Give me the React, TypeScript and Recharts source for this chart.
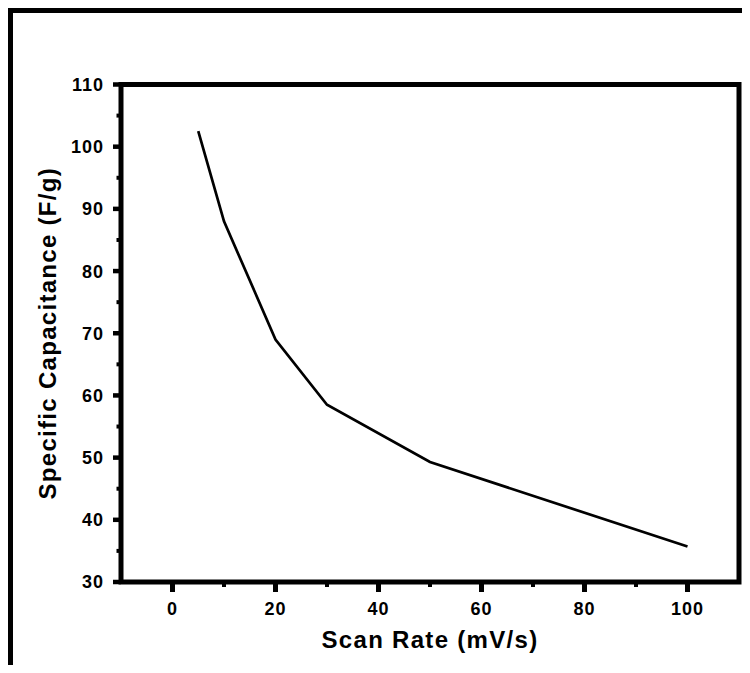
import { LineChart, Line, XAxis, YAxis, ReferenceArea } from "recharts";

// scan rate (mV/s) vs specific capacitance (F/g)
const scanRates = [5, 10, 20, 30, 50, 100];
const capacitance = [102.5, 88, 69, 58.5, 49.3, 35.7];

const xTicks = [0, 10, 20, 30, 40, 50, 60, 70, 80, 90, 100];
const yTicks = [30, 35, 40, 45, 50, 55, 60, 65, 70, 75, 80, 85, 90, 95, 100, 105, 110];

const data = scanRates.map((rate, i) => ({ rate, cap: capacitance[i] }));

const TS = 8;
const TM = 6;
const font = "'Liberation Sans', Arial, Helvetica, sans-serif";

function XTick({ x, y, payload }: any) {
  const axisY = y - (TS + TM);
  const major = payload.value % 20 === 0;
  return (
    <g>
      <line x1={x} x2={x} y1={axisY} y2={axisY + (major ? 10 : 5)} stroke="#000" strokeWidth={major ? 5 : 4} />
      {major && (
        <text x={x} y={axisY + 33} textAnchor="middle" fontFamily={font} fontWeight="bold" fontSize={18} letterSpacing={1} fill="#000">
          {payload.value}
        </text>
      )}
    </g>
  );
}

function YTick({ x, y, payload }: any) {
  const axisX = x + TS + TM;
  const major = payload.value % 10 === 0;
  return (
    <g>
      <line x1={axisX} x2={axisX - (major ? 8 : 4.5)} y1={y} y2={y} stroke="#000" strokeWidth={major ? 4.5 : 4} />
      {major && (
        <text x={axisX - 17} y={y} dy="0.36em" textAnchor="end" fontFamily={font} fontWeight="bold" fontSize={18} letterSpacing={1} fill="#000">
          {payload.value}
        </text>
      )}
    </g>
  );
}

const titleStyle = { textAnchor: "middle" as const, fontFamily: font, fontWeight: "bold", fontSize: 24, letterSpacing: 1.3, fill: "#000" };

export default function App() {
  return (
    <div style={{ position: "relative", width: 734, height: 657, background: "#fff" }}>
      <div
        style={{
          position: "absolute",
          left: 0,
          top: 0,
          width: 742,
          height: 665,
          boxSizing: "border-box",
          borderTop: "5px solid #000",
          borderLeft: "5px solid #000",
          pointerEvents: "none",
          clipPath: "inset(0 8px 8px 0)",
        }}
      />
      <LineChart width={734} height={657} data={data} margin={{ top: 76.5, right: 3, bottom: 2, left: 13 }}>
        <XAxis
          dataKey="rate"
          type="number"
          domain={[-10, 110]}
          ticks={xTicks}
          interval={0}
          axisLine={false}
          tickLine={false}
          tickSize={TS}
          tickMargin={TM}
          tick={<XTick />}
          height={81}
          label={{ value: "Scan Rate (mV/s)", position: "insideBottom", offset: 15, style: titleStyle }}
        />
        <YAxis
          type="number"
          domain={[30, 110]}
          ticks={yTicks}
          interval={0}
          axisLine={false}
          tickLine={false}
          tickSize={TS}
          tickMargin={TM}
          tick={<YTick />}
          width={100}
          label={{ value: "Specific Capacitance (F/g)", angle: -90, position: "insideLeft", offset: 26, style: titleStyle }}
        />
        <Line type="linear" dataKey="cap" stroke="#000" strokeWidth={2.7} dot={false} isAnimationActive={false} />
        <ReferenceArea x1={-10} x2={110} y1={30} y2={110} fill="none" stroke="#000" strokeWidth={5} ifOverflow="visible" />
      </LineChart>
    </div>
  );
}
